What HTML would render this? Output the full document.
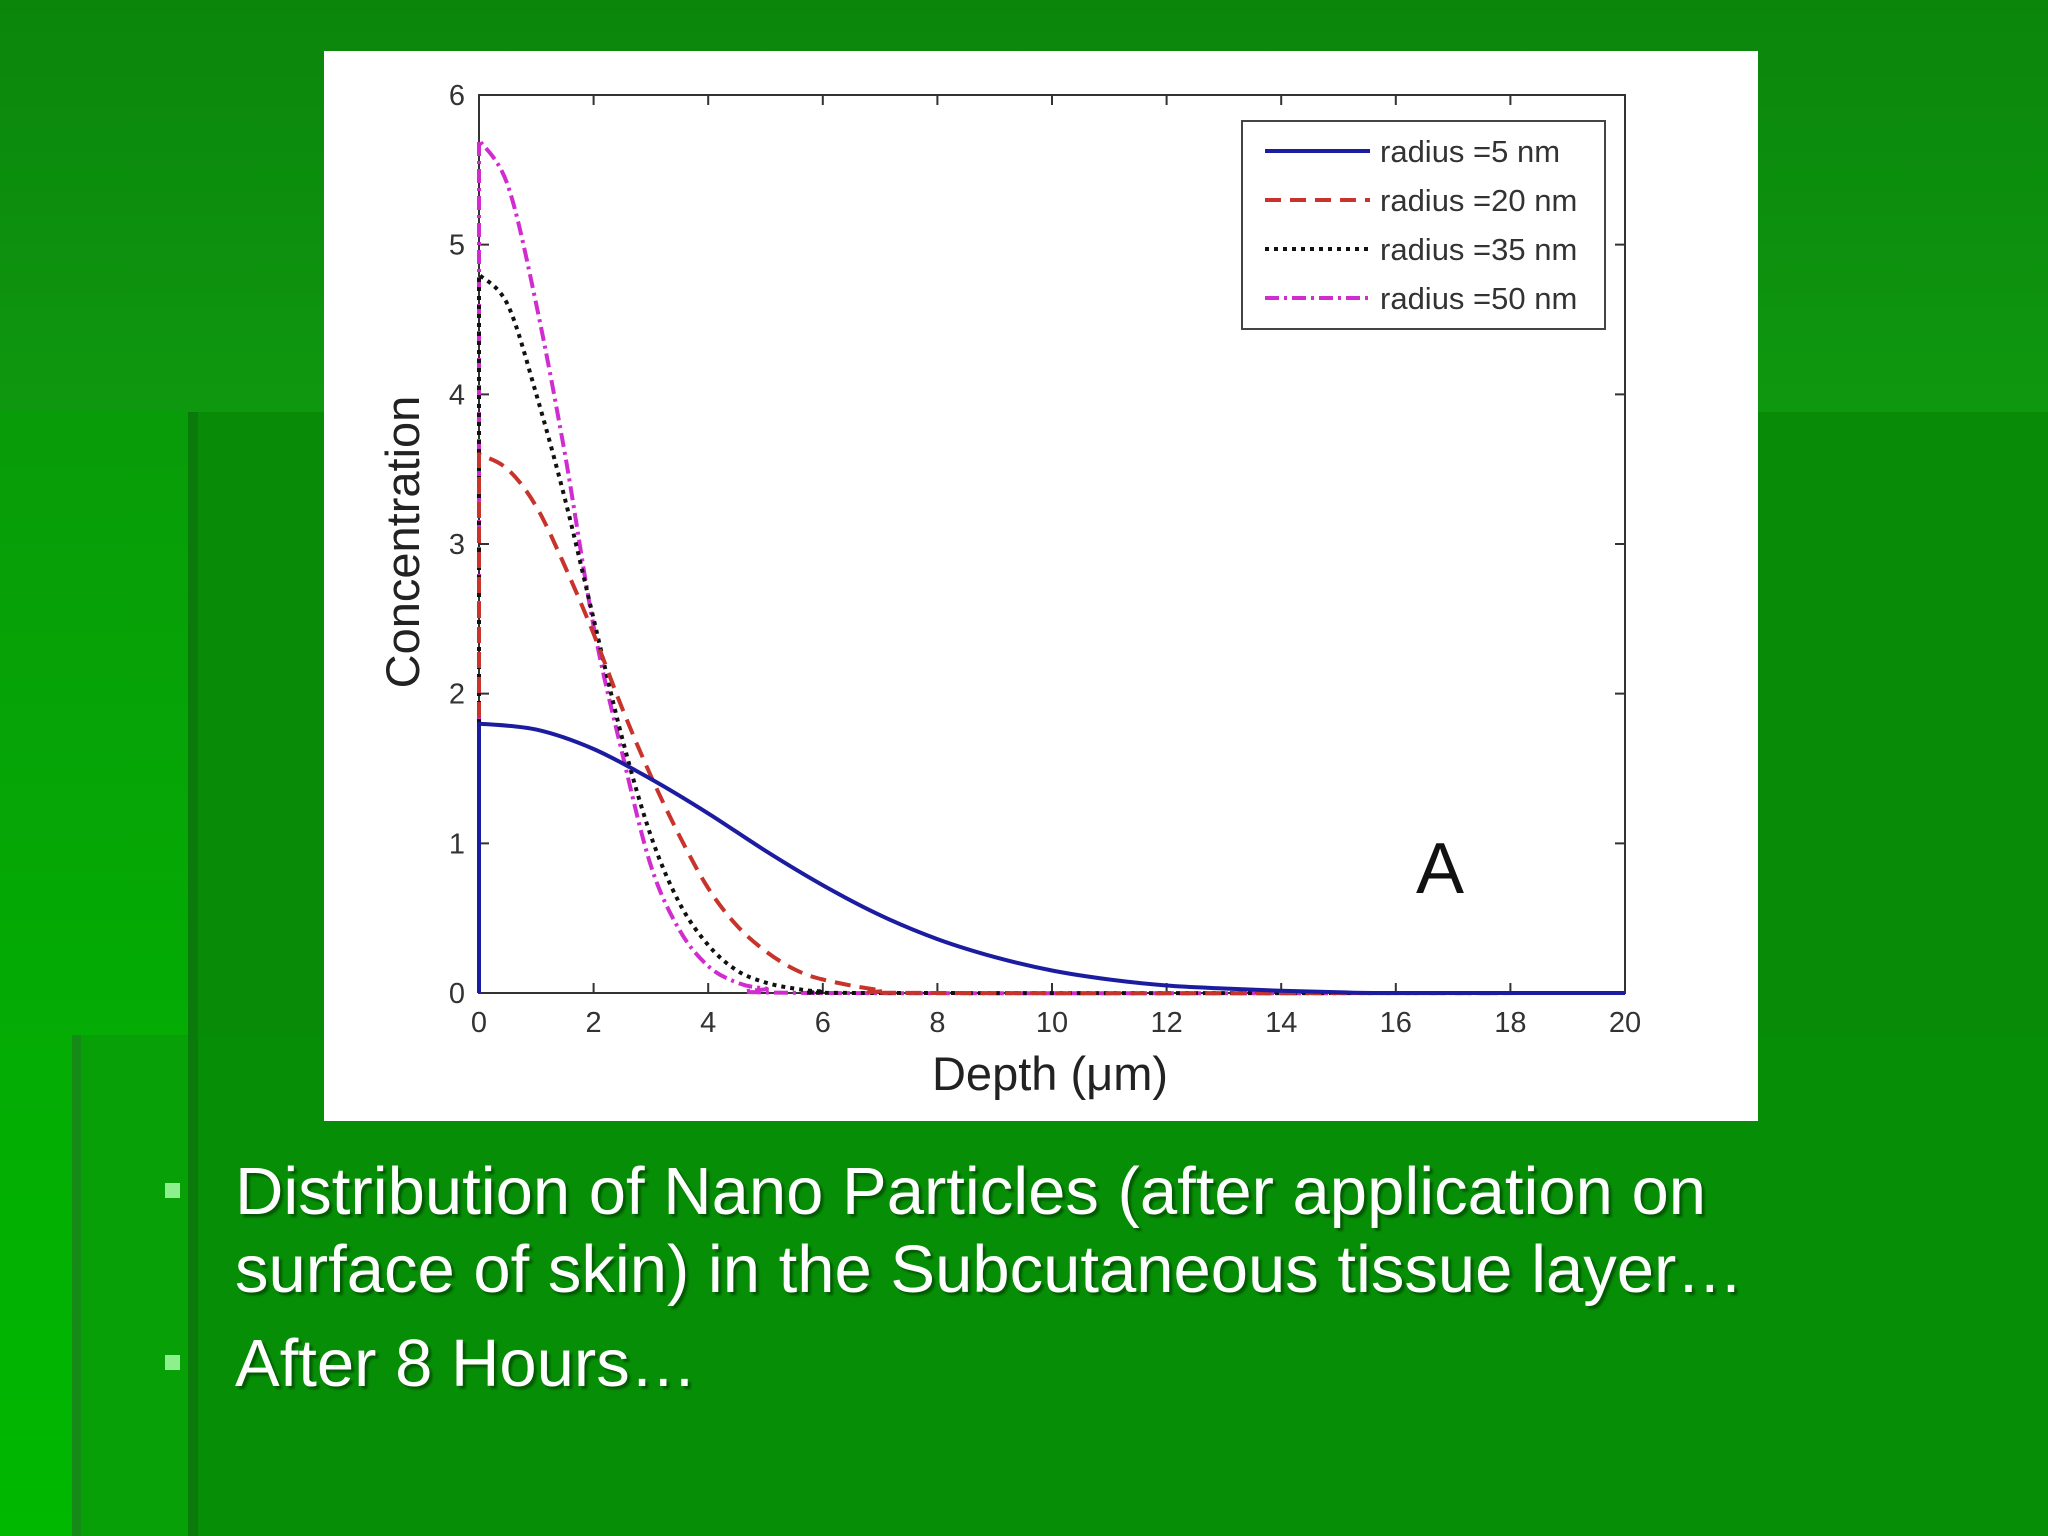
<!DOCTYPE html>
<html><head><meta charset="utf-8"><style>
html,body{margin:0;padding:0}
body{width:2048px;height:1536px;position:relative;overflow:hidden;background:linear-gradient(180deg,#0b860b 0%,#0f9a10 30%,#0a8c0a 100%);font-family:"Liberation Sans",sans-serif}
.bg{position:absolute}
.txt{position:absolute;left:235px;color:#fff;font-size:67px;line-height:78px;text-shadow:3px 3px 2px #035a03;white-space:nowrap}
.bul{position:absolute;left:165px;width:15px;height:15px;background:#8cf08c}
</style></head><body>
<div class="bg" style="left:0;top:412px;width:190px;height:1124px;background:linear-gradient(180deg,#089c08,#00b800)"></div>
<div class="bg" style="left:190px;top:412px;width:1858px;height:1124px;background:#088c08"></div>
<div class="bg" style="left:188px;top:412px;width:10px;height:1124px;background:#0a7a0a"></div>
<div class="bg" style="left:72px;top:1035px;width:116px;height:501px;background:#07a007"></div>
<div class="bg" style="left:72px;top:1035px;width:9px;height:501px;background:#168a16"></div>
<div class="bg" style="left:198px;top:1035px;width:1850px;height:501px;background:#078e07"></div>

<svg style="position:absolute;left:0;top:0" width="2048" height="1536" id="chart">
<rect x="324" y="51" width="1434" height="1070" fill="#fff"/>
<g id="plot"></g>
</svg>

<div class="bul" style="top:1183px"></div>
<div class="txt" style="top:1153px">Distribution of Nano Particles (after application on<br>surface of skin) in the Subcutaneous tissue layer…</div>
<div class="bul" style="top:1355px"></div>
<div class="txt" style="top:1325px">After 8 Hours…</div>

<script>
const xTicks=[0,2,4,6,8,10,12,14,16,18,20];
const yTicks=[0,1,2,3,4,5,6];
const seriesNames=["radius =5 nm","radius =20 nm","radius =35 nm","radius =50 nm"];
const x5=[0,0,1,2,3,4,5,6,7,8,9,10,11,12,13,14,15,16,20];
const y5=[0,1.8,1.76,1.63,1.43,1.2,0.95,0.72,0.52,0.36,0.24,0.15,0.09,0.05,0.03,0.015,0.005,0,0];
const x20=[0,0,0.5,1,1.5,2,2.5,3,3.5,4,4.5,5,5.5,6,7,8,20];
const y20=[0,3.6,3.5,3.25,2.85,2.4,1.9,1.45,1.05,0.7,0.45,0.28,0.16,0.09,0.02,0,0];
const x35=[0,0,0.5,1,1.5,2,2.5,3,3.5,4,4.5,5,5.5,6,7,20];
const y35=[0,4.8,4.6,4.0,3.3,2.5,1.7,1.05,0.6,0.32,0.15,0.07,0.03,0.01,0,0];
const x50=[0,0,0.5,1,1.5,2,2.5,3,3.5,4,4.5,5,6,20];
const y50=[0,5.7,5.4,4.6,3.6,2.45,1.6,0.85,0.42,0.18,0.07,0.03,0,0];
const colors=["#1c1ca0","#c8342c","#111","#d02cd0"];
const dashes=["","16,9","4,5","14,5,3,5"];

const X0=479,X1=1625,Y0=993,Y1=95;
const sx=v=>X0+(X1-X0)*v/20, sy=v=>Y0-(Y0-Y1)*v/6;
const g=document.getElementById('plot');const NS="http://www.w3.org/2000/svg";
function mk(t,a,txt){const e=document.createElementNS(NS,t);for(const k in a)e.setAttribute(k,a[k]);if(txt!==undefined)e.textContent=txt;g.appendChild(e);return e;}
function smooth(xa,ya){
 const P=xa.map((v,j)=>[sx(v),sy(ya[j])]);
 let d='M'+P[0][0]+','+P[0][1]+'L'+P[1][0]+','+P[1][1];
 for(let i=1;i<P.length-1;i++){
  const p0=P[Math.max(1,i-1)],p1=P[i],p2=P[i+1],p3=P[Math.min(P.length-1,i+2)];
  const c1=[p1[0]+(p2[0]-p0[0])/6,p1[1]+(p2[1]-p0[1])/6];
  const c2=[p2[0]-(p3[0]-p1[0])/6,p2[1]-(p3[1]-p1[1])/6];
  d+=`C${c1[0].toFixed(1)},${c1[1].toFixed(1)} ${c2[0].toFixed(1)},${c2[1].toFixed(1)} ${p2[0].toFixed(1)},${p2[1].toFixed(1)}`;
 }
 return d;
}
const box=mk('rect',{x:X0,y:Y1,width:X1-X0,height:Y0-Y1,fill:'none',stroke:'#333','stroke-width':2});


xTicks.forEach(t=>{
 const p=mk('path',{d:`M${sx(t)},${Y0}v-10M${sx(t)},${Y1}v10`,stroke:'#333','stroke-width':2});
 
 
 const l=mk('text',{x:sx(t),y:1032,'text-anchor':'middle','font-size':29,fill:'#333'},t);
 
 
});
yTicks.forEach(t=>{
 const p=mk('path',{d:`M${X0},${sy(t)}h10M${X1},${sy(t)}h-10`,stroke:'#333','stroke-width':2});
 
 
 const l=mk('text',{x:465,y:sy(t)+10,'text-anchor':'end','font-size':29,fill:'#333'},t);
 
 
});
const xs=[x5,x20,x35,x50],ys=[y5,y20,y35,y50];
[3,2,1,0].forEach(i=>{
 const p=mk('path',{d:smooth(xs[i],ys[i]),fill:'none',stroke:colors[i],'stroke-width':4,'stroke-dasharray':dashes[i],'stroke-linejoin':'round'});
 
 
});
const lg=mk('rect',{x:1242,y:121,width:363,height:208,fill:'#fff',stroke:'#444','stroke-width':2});


seriesNames.forEach((n,i)=>{
 const yy=151+i*49;
 const s=mk('line',{x1:1265,x2:1370,y1:yy,y2:yy,stroke:colors[i],'stroke-width':4,'stroke-dasharray':dashes[i]});
 
 
 const t=mk('text',{x:1380,y:yy+11,'font-size':31,fill:'#333'},n);
 
 
});
const a=mk('text',{x:1440,y:893,'text-anchor':'middle','font-size':72,fill:'#111'},'A');


const xt=mk('text',{x:1050,y:1090,'text-anchor':'middle','font-size':47,fill:'#222'},'Depth (μm)');


const yt=mk('text',{x:0,y:0,'text-anchor':'middle','font-size':47,fill:'#222',transform:'translate(419,542) rotate(-90)'},'Concentration');


</script>
</body></html>
